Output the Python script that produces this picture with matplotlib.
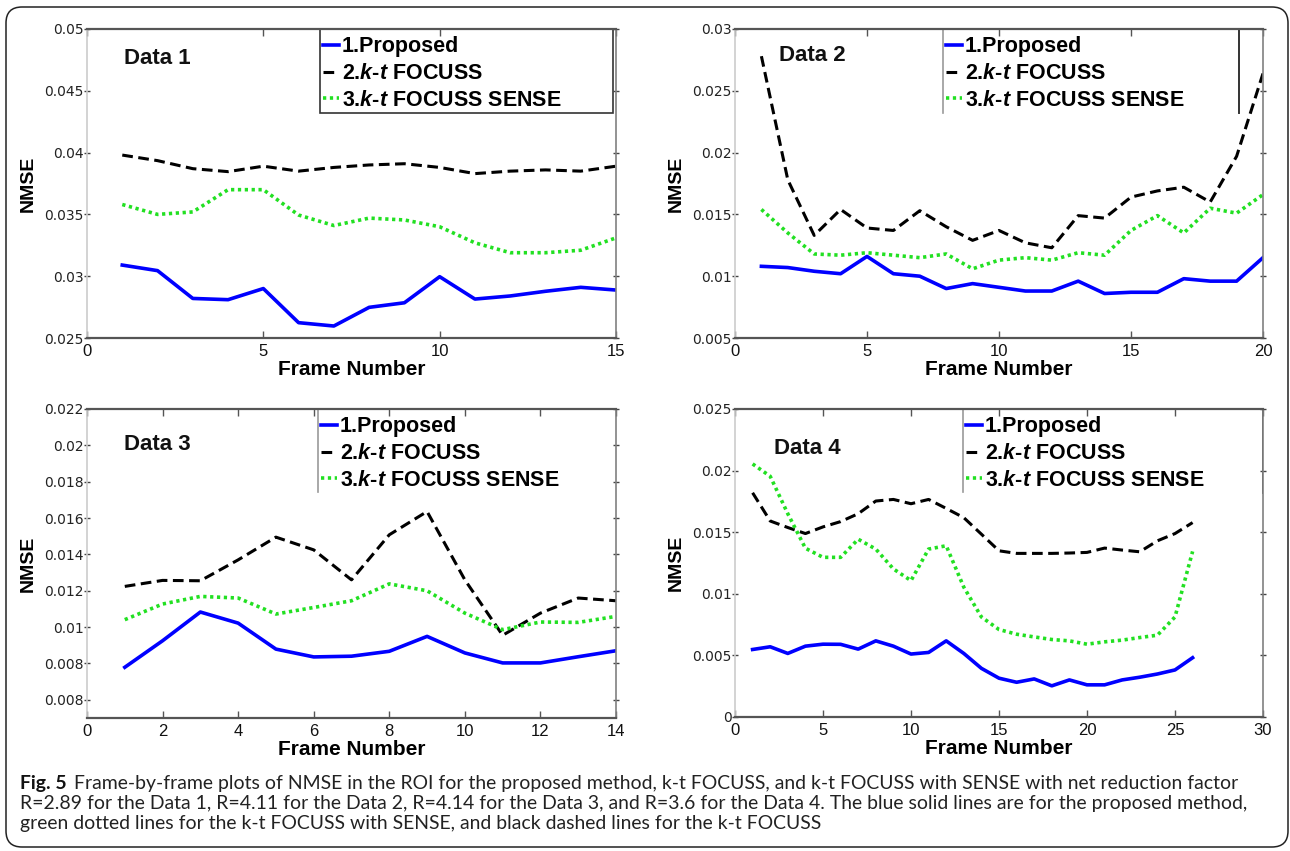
import matplotlib
matplotlib.use("Agg")
import matplotlib.pyplot as plt
from matplotlib.lines import Line2D
from matplotlib.patches import FancyBboxPatch, Rectangle

# ---------------- data ----------------
frames1 = list(range(1, 16))
proposed1 = [0.0309, 0.03045, 0.0282, 0.0281, 0.0290, 0.02624, 0.02597, 0.02748, 0.02785,
             0.02996, 0.02815, 0.0284, 0.02878, 0.0291, 0.02888]
focuss1 = [0.0398, 0.03935, 0.0387, 0.03846, 0.0389, 0.0385, 0.0388, 0.0390, 0.0391,
           0.0388, 0.0383, 0.0385, 0.0386, 0.0385, 0.0389]
sense1 = [0.0358, 0.0350, 0.0352, 0.0370, 0.0370, 0.03495, 0.0341, 0.0347, 0.03455,
          0.0340, 0.0327, 0.0319, 0.0319, 0.0321, 0.0331]

frames2 = list(range(1, 21))
proposed2 = [0.0108, 0.0107, 0.0104, 0.0102, 0.0116, 0.0102, 0.0100, 0.0090, 0.0094, 0.0091,
             0.0088, 0.0088, 0.0096, 0.0086, 0.0087, 0.0087, 0.0098, 0.0096, 0.0096, 0.0115]
focuss2 = [0.0278, 0.0178, 0.0133, 0.0154, 0.0139, 0.0137, 0.0153, 0.0140, 0.0129, 0.0137,
           0.0127, 0.0123, 0.0149, 0.0147, 0.0164, 0.0169, 0.0172, 0.0160, 0.0197, 0.0264]
sense2 = [0.0154, 0.0135, 0.0118, 0.0117, 0.0119, 0.0117, 0.0115, 0.0118, 0.0106, 0.0113,
          0.0115, 0.0113, 0.0119, 0.0117, 0.0137, 0.0149, 0.0135, 0.0155, 0.0151, 0.0166]

frames3 = list(range(1, 15))
proposed3 = [0.00779, 0.00925, 0.01083, 0.01022, 0.00879, 0.00836, 0.0084, 0.00867, 0.00949,
             0.00858, 0.00803, 0.00803, 0.00837, 0.0087]
focuss3 = [0.01224, 0.01257, 0.01255, 0.0137, 0.01495, 0.01425, 0.0126, 0.01508, 0.01636,
           0.0126, 0.00955, 0.01077, 0.0116, 0.01145]
sense3 = [0.01041, 0.01127, 0.01169, 0.0116, 0.01072, 0.01108, 0.01145, 0.01238, 0.0120,
          0.01077, 0.00986, 0.01028, 0.01026, 0.01059]

frames4 = list(range(1, 27))
proposed4 = [0.00548, 0.0057, 0.00516, 0.00575, 0.00591, 0.0059, 0.00551, 0.00618, 0.00575,
             0.00511, 0.00524, 0.00618, 0.00516, 0.00395, 0.00315, 0.00282, 0.00309, 0.00253,
             0.00301, 0.00261, 0.00261, 0.00301, 0.00323, 0.00349, 0.00382, 0.00481]
focuss4 = [0.0182, 0.01591, 0.01538, 0.01489, 0.01543, 0.01586, 0.0165, 0.01753, 0.01766,
           0.01731, 0.01766, 0.01693, 0.01618, 0.01484, 0.01349, 0.01328, 0.01328, 0.01328,
           0.01331, 0.01336, 0.01371, 0.01355, 0.01341, 0.0143, 0.01489, 0.01578]
sense4 = [0.02054, 0.01954, 0.0165, 0.0137, 0.01296, 0.01296, 0.01443, 0.01363, 0.01202,
          0.01107, 0.01363, 0.0139, 0.01054, 0.00812, 0.0071, 0.00672, 0.0065, 0.00629,
          0.00618, 0.00591, 0.0061, 0.00624, 0.00645, 0.00664, 0.00812, 0.01344]

panel_titles = ["Data 1", "Data 2", "Data 3", "Data 4"]
legend_labels = ["1.Proposed", "2.$\\mathbfit{k}$-$\\mathbfit{t}$ FOCUSS",
                 "3.$\\mathbfit{k}$-$\\mathbfit{t}$ FOCUSS SENSE"]

xticks = [[0, 5, 10, 15], [0, 5, 10, 15, 20], [0, 2, 4, 6, 8, 10, 12, 14], [0, 5, 10, 15, 20, 25, 30]]
xlims = [(0, 15), (0, 20), (0, 14), (0, 30)]
yticks = [[0.025, 0.03, 0.035, 0.04, 0.045, 0.05],
          [0.005, 0.01, 0.015, 0.02, 0.025, 0.03],
          [0.006, 0.008, 0.01, 0.012, 0.014, 0.016, 0.018, 0.02, 0.022],
          [0, 0.005, 0.01, 0.015, 0.02, 0.025]]
ytick_labels = [["0.025", "0.03", "0.035", "0.04", "0.045", "0.05"],
                ["0.005", "0.01", "0.015", "0.02", "0.025", "0.03"],
                ["0.008", "0.008", "0.01", "0.012", "0.014", "0.016", "0.018", "0.02", "0.022"],
                ["0", "0.005", "0.01", "0.015", "0.02", "0.025"]]
ylims = [(0.025, 0.05), (0.005, 0.03), (0.005, 0.022), (0, 0.025)]

caption_bold = "Fig. 5"
caption_lines = [
    "Frame-by-frame plots of NMSE in the ROI for the proposed method, k-t FOCUSS, and k-t FOCUSS with SENSE with net reduction factor",
    "R=2.89 for the Data 1, R=4.11 for the Data 2, R=4.14 for the Data 3, and R=3.6 for the Data 4. The blue solid lines are for the proposed method,",
    "green dotted lines for the k-t FOCUSS with SENSE, and black dashed lines for the k-t FOCUSS",
]

# ---------------- style ----------------
plt.rcParams["font.family"] = ["Liberation Sans", "DejaVu Sans"]
plt.rcParams["mathtext.fontset"] = "custom"
plt.rcParams["mathtext.bfit"] = "Liberation Sans:italic:bold"
plt.rcParams["mathtext.it"] = "Liberation Sans:italic:bold"
plt.rcParams["mathtext.rm"] = "Liberation Sans:bold"

W, H = 1290, 851
fig = plt.figure(figsize=(W / 100, H / 100), dpi=100)

# axes boxes in pixels: (left, top, right, bottom)
boxes = [(87, 29, 616, 338), (735, 29, 1263, 338), (87, 409, 616, 718), (735, 409, 1263, 717)]
title_pos = [(0.07, 0.906), (0.083, 0.913), (0.07, 0.885), (0.073, 0.873)]
# legend box in axes fraction: (left, right, bottom)
leg_box = [(0.44, 0.994, 0.728), (0.394, 0.955, 0.728), (0.437, 1.0, 0.73), (0.432, 1.0, 0.73)]

BLUE = "#0000ff"
GREEN = "#22e022"

series = [
    (frames1, proposed1, focuss1, sense1),
    (frames2, proposed2, focuss2, sense2),
    (frames3, proposed3, focuss3, sense3),
    (frames4, proposed4, focuss4, sense4),
]

for i, (fr, p, f, s) in enumerate(series):
    l, t, r, b = boxes[i]
    ax = fig.add_axes([l / W, (H - b) / H, (r - l) / W, (b - t) / H])
    h1, = ax.plot(fr, p, color=BLUE, lw=2.6, solid_joinstyle="round", label=legend_labels[0])
    h2, = ax.plot(fr, f, color="black", lw=2.2, dashes=(3.5, 1.8), label=legend_labels[1])
    h3, = ax.plot(fr, s, color=GREEN, lw=2.6, dashes=(0.9, 1.0), label=legend_labels[2])
    ax.set_xlim(*xlims[i])
    ax.set_ylim(*ylims[i])
    ax.set_xticks(xticks[i])
    ax.set_xticklabels([str(v) for v in xticks[i]], fontsize=12, color="#111111")
    ax.set_yticks(yticks[i])
    ax.set_yticklabels(ytick_labels[i], fontsize=10, family="DejaVu Sans", color="#222222")
    ax.tick_params(axis="y", which="both", direction="inout", length=5, width=1,
                   color="#444444", pad=0, right=True)
    ax.tick_params(axis="x", which="both", direction="in", length=5, width=1,
                   color="#555555", pad=4, top=True)
    for sp in ("top", "bottom"):
        ax.spines[sp].set_color("#555555")
        ax.spines[sp].set_linewidth(1.6)
    ax.spines["left"].set_color("#cccccc")
    ax.spines["left"].set_linewidth(1.2)
    ax.spines["right"].set_color("#808080")
    ax.spines["right"].set_linewidth(1.2)
    ax.set_xlabel("Frame Number", fontsize=15, fontweight="bold", labelpad=1)
    ax.set_ylabel("NMSE", fontsize=14, fontweight="bold", labelpad=5)
    ax.text(title_pos[i][0], title_pos[i][1], panel_titles[i], transform=ax.transAxes,
            fontsize=16, fontweight="bold", va="center", ha="left", color="#111111")

    xl, xr, yb = leg_box[i]
    leg = ax.legend(handles=[h1, h2, h3], loc="upper left", bbox_to_anchor=(xl - 0.008, 1.0),
                    borderaxespad=0, frameon=False,
                    prop={"weight": "bold", "size": 15.5},
                    handlelength=0.75, handletextpad=0.12, labelspacing=0.27, borderpad=0.34)
    if i == 0:
        ax.add_patch(Rectangle((xl, yb), xr - xl, 1 - yb, transform=ax.transAxes,
                               fill=False, ec="#333333", lw=1.2, clip_on=False))
    elif i == 1:
        ax.add_artist(Line2D([xl, xl], [yb, 1], transform=ax.transAxes, color="#999999", lw=1.2))
        ax.add_artist(Line2D([xr, xr], [yb, 1], transform=ax.transAxes, color="#333333", lw=1.4))
    else:
        ax.add_artist(Line2D([xl, xl], [yb, 1], transform=ax.transAxes, color="#999999", lw=1.2))
        if i == 3:
            ax.add_artist(Line2D([1, 1], [yb, 1], transform=ax.transAxes, color="#333333", lw=2.0))

# ---------------- figure border ----------------
border = FancyBboxPatch((6, 4), 1282, 840, boxstyle="round,pad=0,rounding_size=16",
                        transform=None, fill=False, ec="#222222", lw=1.1)
fig.add_artist(border)

# ---------------- caption ----------------
renderer = fig.canvas.get_renderer()
cap_font = "Lato"
cap_size = 12.5
baselines = [789, 809, 829]
x0 = 20
tb = fig.text(x0 / W, (H - baselines[0]) / H, caption_bold, fontsize=cap_size, family=cap_font,
              fontweight="bold", va="baseline", ha="left", color="#111111")
bb = tb.get_window_extent(renderer)
t1 = fig.text((bb.x1 + 7) / W, (H - baselines[0]) / H, caption_lines[0], fontsize=cap_size,
              family=cap_font, va="baseline", ha="left", color="#222222")
t2 = fig.text(x0 / W, (H - baselines[1]) / H, caption_lines[1], fontsize=cap_size,
              family=cap_font, va="baseline", ha="left", color="#222222")
t3 = fig.text(x0 / W, (H - baselines[2]) / H, caption_lines[2], fontsize=cap_size,
              family=cap_font, va="baseline", ha="left", color="#222222")
# fit line 2 width to the reference (ends near x=1248)
w2 = t2.get_window_extent(renderer).width
scale = (1248 - x0) / w2
new_size = cap_size * scale
for t in (tb, t1, t2, t3):
    t.set_fontsize(new_size)
bb = tb.get_window_extent(renderer)
t1.set_x((bb.x1 + 7) / W)

fig.savefig("out.png", dpi=100)
